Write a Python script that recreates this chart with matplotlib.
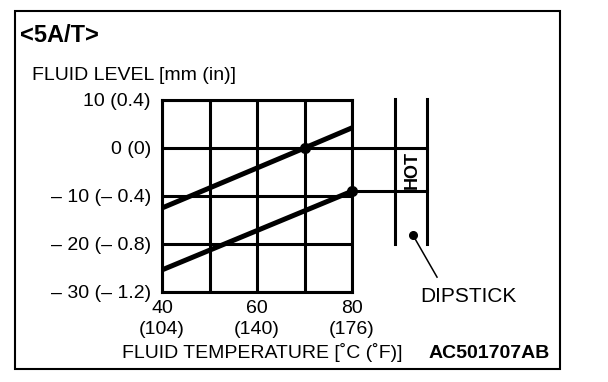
import matplotlib
matplotlib.use("Agg")
import matplotlib.pyplot as plt
from matplotlib.patches import Rectangle

plt.rcParams['font.family'] = ['Liberation Sans', 'DejaVu Sans']

# Fluid level chart data (deg C vs mm)
temp_ticks = [40, 60, 80]
temp_labels = ['40\n(104)', '60\n(140)', '80\n(176)']
level_ticks = [10, 0, -10, -20, -30]
level_labels = ['10 (0.4)', '0 (0)', '– 10 (– 0.4)', '– 20 (– 0.8)', '– 30 (– 1.2)']

upper_temp = [40, 70, 80]
upper_level = [-12.5, 0, 4.2]
lower_temp = [40, 80]
lower_level = [-25.4, -9.0]

hot_levels = [0, -9.0]          # HOT band on the dipstick
dipstick_x = [89.0, 95.8]
dipstick_y = [10.2, -20]

fig = plt.figure(figsize=(6.08, 3.82), dpi=100)
W, H = 608, 382

# outer frame
fig.patches.append(Rectangle((15 / W, 1 - 369 / H), 545 / W, 358 / H,
                             transform=fig.transFigure, fill=False,
                             edgecolor='black', linewidth=1.5))

ax = fig.add_axes([162 / W, 1 - 292 / H, 190 / W, 192 / H])
ax.set_xlim(40, 80)
ax.set_ylim(-30, 10)

ax.set_xticks(temp_ticks, temp_labels, fontsize=14, linespacing=1.25)
ax.set_yticks(level_ticks, level_labels, fontsize=14)
ax.set_xticks([50, 70], minor=True)
ax.tick_params(axis='both', which='both', length=0)
ax.tick_params(axis='x', pad=6)
ax.tick_params(axis='y', pad=8)

for s in ax.spines.values():
    s.set_linewidth(2.2)
ax.grid(True, which='both', color='black', linewidth=2.2)
ax.set_axisbelow(True)

ax.plot(upper_temp, upper_level, color='black', linewidth=3.6, zorder=3)
ax.plot(lower_temp, lower_level, color='black', linewidth=3.6, zorder=3)
ax.plot([upper_temp[1]], [upper_level[1]], 'o', color='black', markersize=7,
        zorder=4, clip_on=False)
ax.plot([lower_temp[-1]], [lower_level[-1]], 'o', color='black', markersize=7,
        zorder=4, clip_on=False)

# dipstick
for x in dipstick_x:
    ax.plot([x, x], dipstick_y, color='black', linewidth=2.2, clip_on=False)
for y in hot_levels:
    ax.plot([80, dipstick_x[1]], [y, y], color='black', linewidth=2.2, clip_on=False)
ax.text(92.6, sum(hot_levels) / 2, 'HOT', rotation=90, ha='center', va='center',
        fontsize=13, fontweight='bold')
ax.plot([92.8], [-18.1], 'o', color='black', markersize=5.5, clip_on=False)
ax.plot([92.8, 97.9], [-18.1, -26.9], color='black', linewidth=1.1, clip_on=False)

fig.text(20 / W, 1 - 35 / H, '<5A/T>', fontsize=17, fontweight='bold', va='center')
fig.text(32 / W, 1 - 76 / H, 'FLUID LEVEL [mm (in)]', fontsize=14, va='center')
fig.text(468 / W, 1 - 297 / H, 'DIPSTICK', fontsize=15, ha='center', va='center')
fig.text(122 / W, 1 - 353 / H, 'FLUID TEMPERATURE [˚C (˚F)]', fontsize=14, va='center')
fig.text(550 / W, 1 - 353 / H, 'AC501707AB', fontsize=14, fontweight='bold',
         ha='right', va='center')

fig.savefig('out.png', dpi=100)
